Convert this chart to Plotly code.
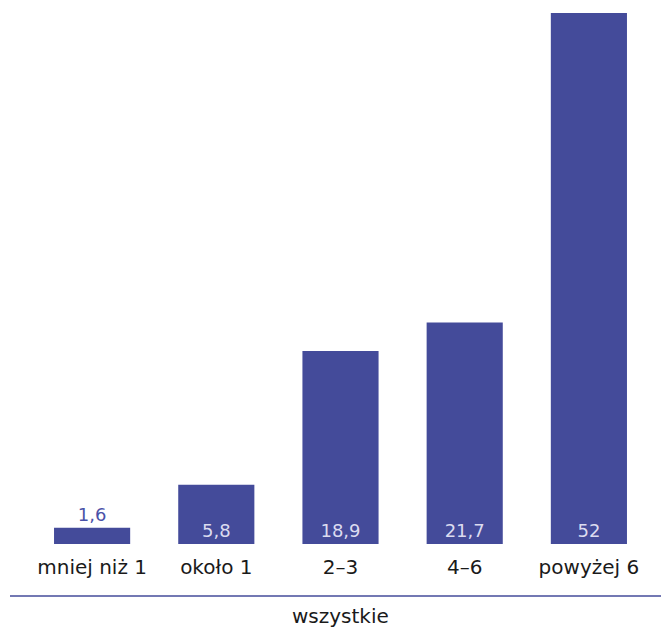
import plotly.graph_objects as go

categories = ["mniej niż 1", "około 1", "2–3", "4–6", "powyżej 6"]
values = [1.6, 5.8, 18.9, 21.7, 52]
group_label = "wszystkie"

BAR = "#444b9a"
FONT = "DejaVu Sans"
labels = [f"{v:g}".replace(".", ",") for v in values]
positions = ["outside" if v < 3 else "inside" for v in values]

fig = go.Figure(go.Bar(
    x=categories, y=values, text=labels, textposition=positions,
    insidetextanchor="start",
    marker=dict(color=BAR, line=dict(width=0)),
    insidetextfont=dict(color="#dcdcf0", size=18, family=FONT),
    outsidetextfont=dict(color="#4a52a8", size=18, family=FONT),
    textangle=0, cliponaxis=False, hoverinfo="skip",
))

W, H = 661, 630
ml, mr, mt, mb = 30, 10, 13, 86
pw, ph = W - ml - mr, H - mt - mb

fig.update_layout(
    width=W, height=H, margin=dict(l=ml, r=mr, t=mt, b=mb),
    paper_bgcolor="white", plot_bgcolor="white",
    bargap=0.387, showlegend=False,
    font=dict(family=FONT, size=20, color="#1a1a1a"),
    xaxis=dict(showgrid=False, showline=False, zeroline=False, ticks="",
               tickfont=dict(size=20, color="#1a1a1a", family=FONT),
               ticklabelstandoff=9),
    yaxis=dict(range=[0, 52], visible=False, showgrid=False, zeroline=False),
    uniformtext=dict(mode=False),
)

fig.add_shape(type="line", xref="paper", yref="paper",
              x0=(10 - ml) / pw, x1=(W - ml) / pw,
              y0=-(596 - (H - mb)) / ph, y1=-(596 - (H - mb)) / ph,
              line=dict(color=BAR, width=1.5))
fig.add_annotation(text=group_label, xref="paper", yref="paper",
                   x=0.5, y=-(H - (H - mb)) / ph, yanchor="bottom",
                   showarrow=False, font=dict(size=20, color="#1a1a1a", family=FONT))

fig.write_html("out.html",
               config={"displayModeBar": False, "staticPlot": True},
               post_script="document.body.style.margin='0';document.body.style.overflow='hidden';")
